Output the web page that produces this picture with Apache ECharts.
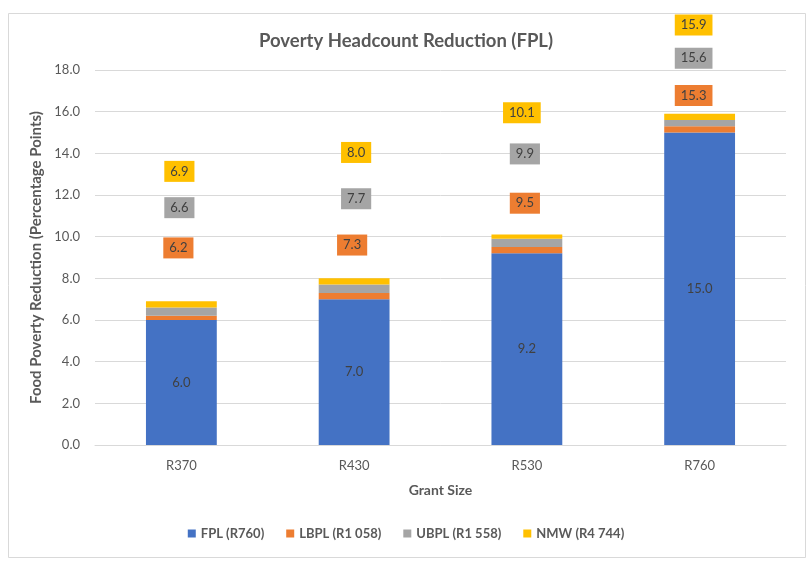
<!DOCTYPE html>
<html>
<head>
<meta charset="utf-8">
<script src="https://cdn.jsdelivr.net/npm/echarts@6/dist/echarts.min.js"></script>
<style>
html,body{margin:0;padding:0;background:#fff;}
#chart{width:812px;height:567px;}
</style>
</head>
<body>
<div id="chart"></div>
<script>
// ---- data ----
var categories = ['R370', 'R430', 'R530', 'R760'];
var seriesNames = ['FPL (R760)', 'LBPL (R1 058)', 'UBPL (R1 558)', 'NMW (R4 744)'];
// stacked increments (cumulative totals are shown as labels)
var fplValues  = [6.0, 7.0, 9.2, 15.0];
var lbplValues = [0.2, 0.3, 0.3, 0.3];
var ubplValues = [0.4, 0.4, 0.4, 0.3];
var nmwValues  = [0.3, 0.3, 0.2, 0.3];
var yTicks = [0, 2, 4, 6, 8, 10, 12, 14, 16, 18];

// ---- layout (label placement, px offsets from segment centre) ----
var labelOffsets = [
  [[0,0],[0,0],[0,0],[0,0]],
  [[-3,-70],[-2,-51],[-2,-47],[-6,-34]],
  [[-2,-104],[2,-90],[-2,-89],[-6,-65]],
  [[-2,-133],[2,-129],[-5,-124],[-6,-92]]
];
var colors = ['#4472C4', '#ED7D31', '#A5A5A5', '#FFC000'];
var FONT = "Lato, 'Open Sans', sans-serif";
var TXT = '#595959';

var allValues = [fplValues, lbplValues, ubplValues, nmwValues];

function cumulative(si, di) {
  var s = 0;
  for (var k = 0; k <= si; k++) s += allValues[k][di];
  return (Math.round(s * 10) / 10).toFixed(1);
}

var series = allValues.map(function (vals, si) {
  return {
    name: seriesNames[si],
    type: 'bar',
    stack: 'total',
    barWidth: '41%',
    itemStyle: { color: colors[si] },
    data: vals.map(function (v, di) {
      return { value: v, label: { offset: labelOffsets[si][di] } };
    }),
    label: {
      show: true,
      position: 'inside',
      fontFamily: FONT,
      fontSize: 13,
      color: '#404040',
      backgroundColor: si === 0 ? 'transparent' : colors[si],
      padding: si === 0 ? 0 : [4, 6, 4, 6],
      formatter: function (p) { return cumulative(si, p.dataIndex); }
    }
  };
});

var chart = echarts.init(document.getElementById('chart'), null, { renderer: 'canvas' });
chart.setOption({
  animation: false,
  backgroundColor: '#fff',
  title: {
    text: 'Poverty Headcount Reduction (FPL)',
    left: 'center',
    top: 27,
    textStyle: { fontFamily: FONT, fontSize: 18.5, fontWeight: 'bold', color: TXT }
  },
  legend: {
    data: seriesNames,
    bottom: 22,
    left: 'center',
    itemWidth: 8,
    itemHeight: 8,
    itemGap: 22,
    icon: 'rect',
    textStyle: { fontFamily: FONT, fontSize: 13, fontWeight: 'bold', color: TXT }
  },
  grid: { left: 95, right: 26, top: 70, bottom: 122 },
  xAxis: {
    type: 'category',
    data: categories,
    name: 'Grant Size',
    nameLocation: 'middle',
    nameGap: 38,
    nameTextStyle: { fontFamily: FONT, fontSize: 14, fontWeight: 'bold', color: TXT },
    axisLine: { lineStyle: { color: '#d9d9d9' } },
    axisTick: { show: false },
    axisLabel: { fontFamily: FONT, fontSize: 13, color: TXT, margin: 14 }
  },
  yAxis: {
    type: 'value',
    min: yTicks[0],
    max: yTicks[yTicks.length - 1],
    interval: yTicks[1] - yTicks[0],
    name: 'Food Poverty Reduction (Percentage Points)',
    nameLocation: 'middle',
    nameGap: 49,
    nameTextStyle: { fontFamily: FONT, fontSize: 15, fontWeight: 'bold', color: TXT },
    axisLine: { show: false },
    axisTick: { show: false },
    splitLine: { lineStyle: { color: '#d9d9d9' } },
    axisLabel: { fontFamily: FONT, fontSize: 13, color: TXT, margin: 15,
      formatter: function (v) { return v.toFixed(1); } }
  },
  graphic: [{
    type: 'rect',
    shape: { x: 8.5, y: 13.5, width: 797, height: 544 },
    style: { fill: 'none', stroke: '#d9d9d9', lineWidth: 1 },
    silent: true,
    z: -1
  }],
  series: series
});
</script>
</body>
</html>
